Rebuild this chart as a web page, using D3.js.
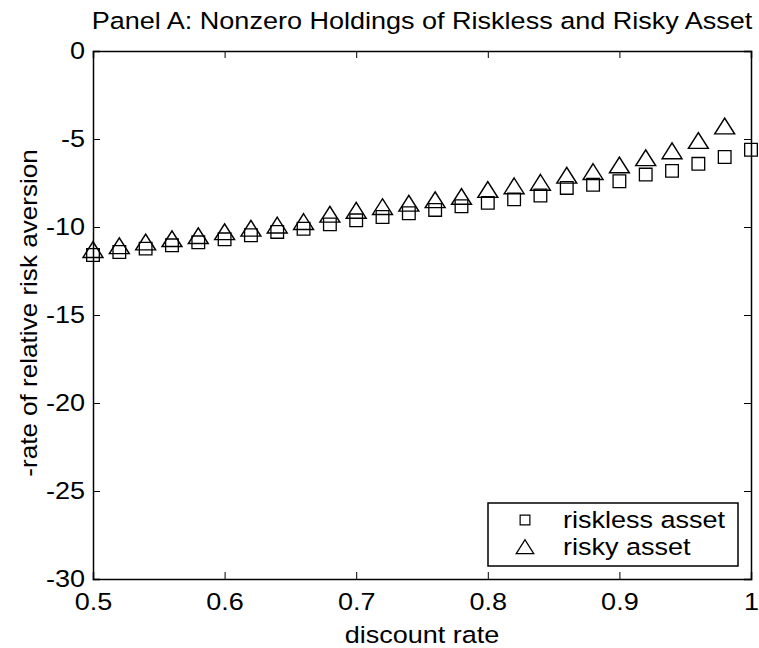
<!DOCTYPE html>
<html>
<head>
<meta charset="utf-8">
<script src="https://cdn.jsdelivr.net/npm/d3@7"></script>
<style>
  body { margin: 0; background: #fff; }
  svg { display: block; font-family: "Liberation Sans", Arial, sans-serif; }
</style>
</head>
<body>
<svg width="759" height="648"></svg>
<script>
// discount rates
const ratesRiskless = [0.50, 0.52, 0.54, 0.56, 0.58, 0.60, 0.62, 0.64, 0.66, 0.68, 0.70, 0.72, 0.74,
  0.76, 0.78, 0.80, 0.82, 0.84, 0.86, 0.88, 0.90, 0.92, 0.94, 0.96, 0.98, 1.00];
const ratesRisky = ratesRiskless.slice(0, 25);

// -rate of relative risk aversion
const riskless = [-11.59, -11.42, -11.23, -11.04, -10.87, -10.70, -10.47, -10.28, -10.10, -9.85,
  -9.62, -9.43, -9.22, -9.03, -8.82, -8.63, -8.43, -8.21, -7.78, -7.60, -7.40, -7.02, -6.81,
  -6.41, -6.02, -5.61];
const risky = [-11.29, -11.07, -10.86, -10.67, -10.50, -10.28, -10.08, -9.90, -9.70, -9.28,
  -9.06, -8.85, -8.66, -8.46, -8.27, -7.88, -7.67, -7.47, -7.07, -6.86, -6.48, -6.07, -5.68,
  -5.09, -4.27];

const xTicks = [0.5, 0.6, 0.7, 0.8, 0.9, 1];
const yTicks = [0, -5, -10, -15, -20, -25, -30];
const legendLabels = ['riskless asset', 'risky asset'];

const svg = d3.select('svg');
const m = { left: 93, right: 751, top: 51, bottom: 579 };
const fontSize = 23.5;
const sx = 1.15; // text in the original is set a bit wide

const x = d3.scaleLinear().domain([0.5, 1]).range([m.left, m.right]);
const y = d3.scaleLinear().domain([-30, 0]).range([m.bottom, m.top]);

// box + inward ticks on all sides
const axes = svg.append('g');
const xAxis = axes.append('g')
  .attr('transform', `translate(0,${m.bottom})`)
  .call(d3.axisBottom(x).tickValues(xTicks).tickSize(-7).tickPadding(14).tickFormat(d => String(d)));
axes.append('g')
  .attr('transform', `translate(0,${m.top})`)
  .call(d3.axisTop(x).tickValues(xTicks).tickSize(-7).tickFormat(''));
const yAxis = axes.append('g')
  .attr('transform', `translate(${m.left},0)`)
  .call(d3.axisLeft(y).tickValues(yTicks).tickSize(-7).tickPadding(8).tickFormat(d => String(d)));
axes.append('g')
  .attr('transform', `translate(${m.right},0)`)
  .call(d3.axisRight(y).tickValues(yTicks).tickSize(-7).tickFormat(''));

axes.selectAll('.domain').attr('stroke', '#000').attr('stroke-width', 1.5);
axes.selectAll('.tick line').attr('stroke', '#000').attr('stroke-width', 1);
axes.selectAll('.tick text')
  .attr('fill', '#000')
  .attr('transform', `scale(${sx},1)`)
  .style('font-family', '"Liberation Sans", Arial, sans-serif')
  .style('font-size', fontSize + 'px');
xAxis.selectAll('.tick text').attr('y', 14).attr('dy', '0.72em');
yAxis.selectAll('.tick text').attr('x', -8 / sx);

// markers
const sq = d3.symbol().type(d3.symbolSquare).size(160);
const triSize = 130;
const tri = d3.symbol().type(d3.symbolTriangle).size(triSize);
// d3 puts the triangle centroid at the point; shift so the box centre sits there
const triShift = Math.sqrt(triSize / Math.sqrt(3)) / 2 * Math.sqrt(3) / 3;

svg.append('g')
  .selectAll('path')
  .data(riskless)
  .join('path')
  .attr('d', sq)
  .attr('transform', (d, i) => `translate(${x(ratesRiskless[i])},${y(d)})`)
  .attr('fill', 'none')
  .attr('stroke', '#000')
  .attr('stroke-width', 1.3);

svg.append('g')
  .selectAll('path')
  .data(risky)
  .join('path')
  .attr('d', tri)
  .attr('transform', (d, i) => `translate(${x(ratesRisky[i])},${y(d) + triShift}) scale(1.15,1.05)`)
  .attr('fill', 'none')
  .attr('stroke', '#000')
  .attr('stroke-width', 1.3);

// title and axis labels
function label(tx, text, stretch) {
  return svg.append('text')
    .attr('transform', tx + ` scale(${stretch || sx},1)`)
    .attr('text-anchor', 'middle')
    .style('font-size', fontSize + 'px')
    .text(text);
}
label(`translate(${(m.left + m.right) / 2},29)`, 'Panel A: Nonzero Holdings of Riskless and Risky Asset');
label(`translate(${(m.left + m.right) / 2},643)`, 'discount rate');
label(`translate(37,313) rotate(-90)`, '-rate of relative risk aversion', 1.11);

// legend
const legend = svg.append('g');
legend.append('rect')
  .attr('x', 488).attr('y', 503)
  .attr('width', 250).attr('height', 63)
  .attr('fill', '#fff')
  .attr('stroke', '#000')
  .attr('stroke-width', 1.5);

const legendSym = [d3.symbol().type(d3.symbolSquare).size(95), d3.symbol().type(d3.symbolTriangle).size(110)];
legendLabels.forEach((name, i) => {
  const cy = 520 + i * 27;
  legend.append('path')
    .attr('d', legendSym[i])
    .attr('transform', `translate(525,${cy + (i === 1 ? 2 : 0)})${i === 1 ? ' scale(1.1,1)' : ''}`)
    .attr('fill', 'none')
    .attr('stroke', '#000')
    .attr('stroke-width', 1.2);
  legend.append('text')
    .attr('transform', `translate(563,${cy + 8}) scale(${sx},1)`)
    .style('font-size', fontSize + 'px')
    .text(name);
});
</script>
</body>
</html>
